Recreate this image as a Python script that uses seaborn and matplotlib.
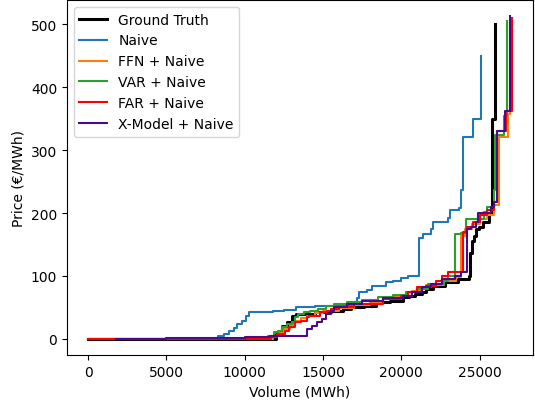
import matplotlib
matplotlib.use("Agg")
import matplotlib.pyplot as plt
import seaborn as sns

# Ground Truth
gt_vol = [0, 11700, 12000, 12200, 12400, 12700, 13000, 13300, 14500, 15500,
          16300, 16800, 17600, 18400, 19300, 20100, 20500, 20900, 21300, 21600,
          22000, 22800, 23600, 24300, 24380, 24500, 24650, 24800, 24950, 25200,
          25600, 25800, 26000]
gt_price = [0, 0, 8, 13, 21, 27, 37, 40, 42, 44,
            47, 50, 52, 58, 60, 66, 68, 71, 74, 79,
            84, 90, 95, 100, 137, 155, 163, 174, 178, 186,
            200, 350, 500]

# Naive
nv_vol = [0, 8200, 8300, 8700, 9000, 9300, 9500, 9800, 10100, 10300,
          11000, 11800, 12500, 13300, 14500, 15700, 16900, 17200, 17300, 17800,
          18100, 19000, 19500, 20000, 20400, 21100, 21150, 21400, 21900, 22000,
          23000, 23100, 23700, 23800, 23950, 24600, 25100]
nv_price = [0, 0, 5, 8, 13, 18, 24, 28, 36, 42,
            43, 44, 46, 50, 52, 54, 58, 65, 74, 78,
            84, 90, 92, 96, 100, 103, 160, 166, 174, 186,
            192, 205, 208, 237, 321, 350, 450]

# FFN + Naive
ffn_vol = [0, 11600, 11800, 12100, 12500, 12900, 13200, 13600, 14000, 14500,
           15000, 16000, 17000, 18000, 18800, 19500, 20100, 20700, 21300, 21600,
           22700, 23500, 23800, 24100, 24500, 25000, 25500, 25900, 26250, 26800,
           26950]
ffn_price = [0, 0, 5, 10, 16, 22, 28, 33, 37, 41,
             45, 49, 54, 58, 63, 66, 68, 76, 79, 85,
             92, 98, 163, 174, 182, 190, 197, 213, 321, 358,
             505]

# VAR + Naive
var_vol = [0, 11300, 11500, 11900, 12100, 12400, 12700, 13000, 13200, 13400,
           13800, 14200, 14700, 15200, 15700, 16500, 17500, 18500, 19500, 20300,
           21000, 21700, 22700, 23000, 23440, 23800, 24125, 25300, 25500, 25900,
           26000, 26560, 26750]
var_price = [0, 0, 5, 11, 13, 19, 24, 27, 35, 39,
             42, 45, 48, 52, 55, 58, 62, 66, 70, 74,
             80, 87, 92, 100, 166, 169, 190, 202, 210, 237,
             324, 354, 505]

# FAR + Naive
far_vol = [0, 11500, 11700, 12060, 12560, 12800, 13200, 13600, 14000, 14100,
           14800, 15250, 15500, 16000, 17000, 18800, 20000, 20400, 21000, 21600,
           22200, 22600, 23000, 23940, 24200, 24600, 25000, 25500, 25900, 26125,
           26700, 27060]
far_price = [0, 0, 3, 8, 13, 19, 27, 28, 35, 37,
             42, 44, 47, 50, 55, 63, 68, 74, 82, 84,
             92, 100, 106, 170, 178, 186, 197, 205, 218, 331,
             363, 510]

# X-Model + Naive
xm_vol = [1800, 5000, 8000, 10000, 11600, 13800, 14000, 14300, 14600, 14940,
          15200, 15500, 15700, 16500, 17500, 18800, 20100, 20700, 21300, 21900,
          22600, 23400, 23800, 24190, 24440, 24750, 24900, 25700, 25900, 26100,
          26650, 26940]
xm_price = [0, 1, 2, 3, 4, 5, 16, 21, 27, 32,
            40, 44, 50, 55, 60, 65, 68, 74, 82, 87,
            95, 100, 107, 174, 178, 186, 200, 210, 218, 331,
            363, 513]

series = [
    ("Ground Truth", gt_vol, gt_price, "black", 2.2),
    ("Naive", nv_vol, nv_price, "#1f77b4", 1.5),
    ("FFN + Naive", ffn_vol, ffn_price, "#ff7f0e", 1.5),
    ("VAR + Naive", var_vol, var_price, "#2ca02c", 1.5),
    ("FAR + Naive", far_vol, far_price, "red", 1.5),
    ("X-Model + Naive", xm_vol, xm_price, "#4b0a8c", 1.5),
]

fig = plt.figure(figsize=(5.35, 4.02), dpi=100)
ax = fig.add_axes([0.1252, 0.1144, 0.8711, 0.8831])
for label, v, p, c, lw in series:
    sns.lineplot(x=v, y=p, ax=ax, color=c, linewidth=lw, label=label,
                 estimator=None, sort=False, drawstyle="steps-post")

ax.set_xlabel("Volume (MWh)")
ax.set_ylabel("Price (€/MWh)")
ax.legend(loc="upper left")
fig.savefig("out.png", dpi=100)
